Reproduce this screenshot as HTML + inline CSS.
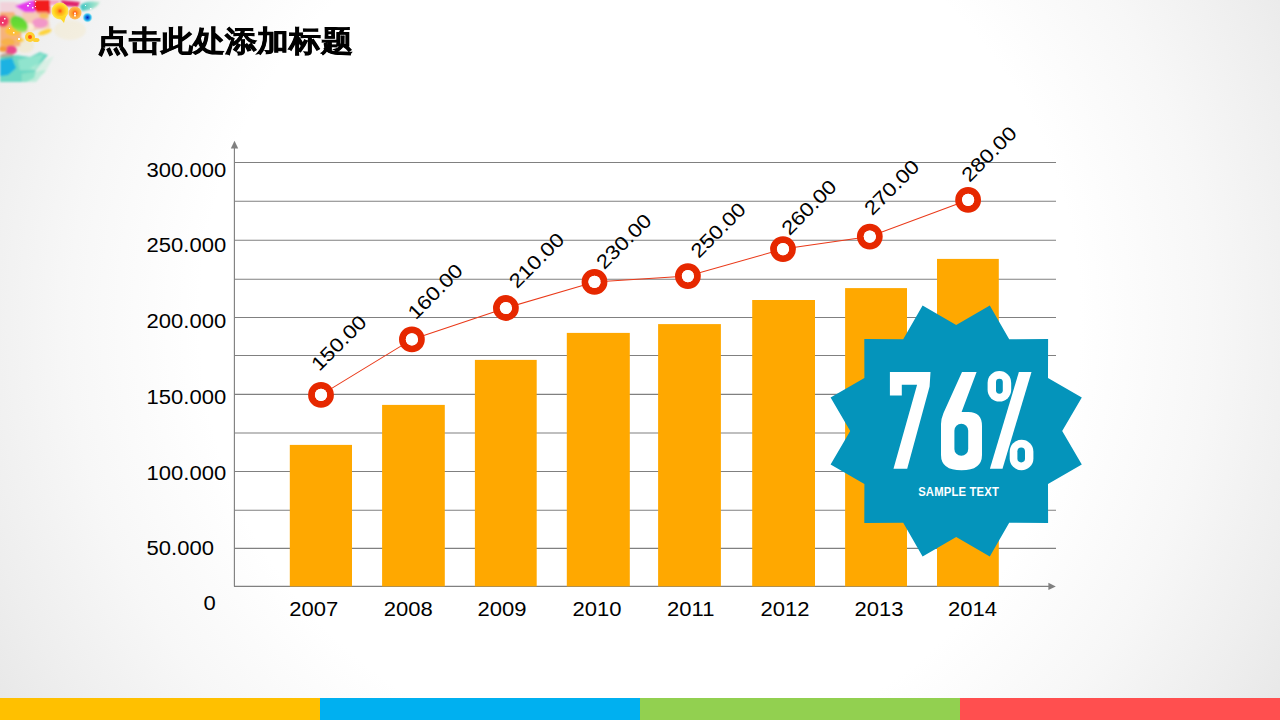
<!DOCTYPE html>
<html><head><meta charset="utf-8">
<style>
html,body{margin:0;padding:0;width:1280px;height:720px;overflow:hidden;}
body{position:relative;font-family:"Liberation Sans",sans-serif;
background:radial-gradient(circle at 640px 320px,#ffffff 0px,#ffffff 440px,#f7f7f7 570px,#eeeeee 680px,#e5e5e5 780px);}
.title{position:absolute;left:97px;top:23px;font-size:32px;font-weight:bold;color:#000;-webkit-text-stroke:0.8px #000;white-space:nowrap;line-height:40px;transform:scaleY(0.91);transform-origin:0 0;}
.bars{position:absolute;left:0;top:698px;height:22px;width:1280px;}
.bars div{position:absolute;top:0;height:22px;width:320px;}
svg{position:absolute;left:0;top:0;}
.yl{position:absolute;font-size:19.5px;color:#000;white-space:nowrap;line-height:20px;}
</style></head>
<body>
<svg width="1280" height="720" viewBox="0 0 1280 720">
  <!-- plot area white -->
  
  <!-- gridlines -->
  <g stroke="#808080" stroke-width="1.15">
    <line x1="234" y1="162.5" x2="1056" y2="162.5"/>
    <line x1="234" y1="201.2" x2="1056" y2="201.2"/>
    <line x1="234" y1="240.2" x2="1056" y2="240.2"/>
    <line x1="234" y1="279.2" x2="1056" y2="279.2"/>
    <line x1="234" y1="317.5" x2="1056" y2="317.5"/>
    <line x1="234" y1="355.5" x2="1056" y2="355.5"/>
    <line x1="234" y1="394.3" x2="1056" y2="394.3"/>
    <line x1="234" y1="433" x2="1056" y2="433"/>
    <line x1="234" y1="471.5" x2="1056" y2="471.5"/>
    <line x1="234" y1="510.2" x2="1056" y2="510.2"/>
    <line x1="234" y1="548.4" x2="1056" y2="548.4"/>
    <line x1="234.4" y1="147" x2="234.4" y2="586.4"/>
    <line x1="234" y1="586.4" x2="1049" y2="586.4"/>
  </g>
  <polygon points="230.8,148.4 238.2,148.4 234.5,140.8" fill="#808080"/>
  <polygon points="1048.4,582.8 1048.4,590 1055.8,586.4" fill="#808080"/>
  <!-- bars -->
  <g fill="#FFA800">
    <rect x="289.8" y="444.9" width="62.2" height="141.5"/>
    <rect x="382.1" y="404.9" width="62.7" height="181.5"/>
    <rect x="474.9" y="359.9" width="61.8" height="226.5"/>
    <rect x="566.8" y="332.9" width="63" height="253.5"/>
    <rect x="658.1" y="324.1" width="62.8" height="262.3"/>
    <rect x="752.2" y="300" width="62.8" height="286.4"/>
    <rect x="845.1" y="288.1" width="61.9" height="298.3"/>
    <rect x="937" y="258.9" width="61.8" height="327.5"/>
  </g>
  <!-- line -->
  <polyline points="321,394.9 411.9,339.4 505.9,308 594.5,281.9 687.9,276.1 783,249.1 869.8,236.6 968.1,199.9" fill="none" stroke="#EA3A1A" stroke-width="1.05"/>
  <g fill="none" stroke="#E62800" stroke-width="6.8">
    <circle cx="321" cy="394.9" r="9.5"/>
    <circle cx="411.9" cy="339.4" r="9.5"/>
    <circle cx="505.9" cy="308" r="9.5"/>
    <circle cx="594.5" cy="281.9" r="9.5"/>
    <circle cx="687.9" cy="276.1" r="9.5"/>
    <circle cx="783" cy="249.1" r="9.5"/>
    <circle cx="869.8" cy="236.6" r="9.5"/>
    <circle cx="968.1" cy="199.9" r="9.5"/>
  </g>
  <g fill="#fff">
    <circle cx="321" cy="394.9" r="6.1"/>
    <circle cx="411.9" cy="339.4" r="6.1"/>
    <circle cx="505.9" cy="308" r="6.1"/>
    <circle cx="594.5" cy="281.9" r="6.1"/>
    <circle cx="687.9" cy="276.1" r="6.1"/>
    <circle cx="783" cy="249.1" r="6.1"/>
    <circle cx="869.8" cy="236.6" r="6.1"/>
    <circle cx="968.1" cy="199.9" r="6.1"/>
  </g>
  <!-- data labels (centered, rotated) -->
  <g font-family="Liberation Sans" font-size="19.5" fill="#000" text-anchor="middle" dominant-baseline="central">
    <text transform="translate(338.6,342.8) rotate(-45) scale(1.15,1)">150.00</text>
    <text transform="translate(435,291.3) rotate(-45) scale(1.15,1)">160.00</text>
    <text transform="translate(536.3,260.2) rotate(-45) scale(1.15,1)">210.00</text>
    <text transform="translate(623.6,241.2) rotate(-45) scale(1.15,1)">230.00</text>
    <text transform="translate(718,229.9) rotate(-45) scale(1.15,1)">250.00</text>
    <text transform="translate(808.7,207.2) rotate(-45) scale(1.15,1)">260.00</text>
    <text transform="translate(891.5,187.2) rotate(-45) scale(1.15,1)">270.00</text>
    <text transform="translate(988.8,153.75) rotate(-45) scale(1.15,1)">280.00</text>
  </g>
  <!-- y labels -->
  <g font-family="Liberation Sans" font-size="19.5" fill="#000">
    <text transform="translate(146.6,177) scale(1.13,1)">300.000</text>
    <text transform="translate(146.6,252) scale(1.13,1)">250.000</text>
    <text transform="translate(146.6,328) scale(1.13,1)">200.000</text>
    <text transform="translate(146.6,403.8) scale(1.13,1)">150.000</text>
    <text transform="translate(146.6,480) scale(1.13,1)">100.000</text>
    <text transform="translate(146.6,555) scale(1.13,1)">50.000</text>
    <text transform="translate(203.6,610.4) scale(1.13,1)">0</text>
  </g>
  <!-- x labels -->
  <g font-family="Liberation Sans" font-size="19.5" fill="#000" text-anchor="middle">
    <text transform="translate(313.85,616) scale(1.13,1)">2007</text>
    <text transform="translate(408.15,616) scale(1.13,1)">2008</text>
    <text transform="translate(502.00,616) scale(1.13,1)">2009</text>
    <text transform="translate(597.10,616) scale(1.13,1)">2010</text>
    <text transform="translate(690.80,616) scale(1.13,1)">2011</text>
    <text transform="translate(785.00,616) scale(1.13,1)">2012</text>
    <text transform="translate(879.00,616) scale(1.13,1)">2013</text>
    <text transform="translate(972.60,616) scale(1.13,1)">2014</text>
  </g>
  <!-- star badge -->
  <polygon fill="#0494BB" points="956.2,325.0 989.8,305.4 1009.2,339.2 1048.1,339.1 1048.0,378.0 1081.8,397.4 1062.2,431.0 1081.8,464.6 1048.0,484.0 1048.1,522.9 1009.2,522.8 989.8,556.6 956.2,537.0 922.6,556.6 903.2,522.8 864.3,522.9 864.4,484.0 830.6,464.6 850.2,431.0 830.6,397.4 864.4,378.0 864.3,339.1 903.2,339.2 922.6,305.4"/>
  <!-- 76% glyphs -->
  <g fill="#fff">
    <polygon points="889.9,371.9 930.5,371.9 929.6,386.4 907.2,468.8 893.5,468.8 917.1,384.8 901.8,384.8 901.8,395.5 889.9,395.5"/>
    <path d="M962,371.9 L976.6,371.9 L961.6,412 L968.5,412 Q982,412 982,426 L982,455 Q982,470.3 961.5,470.3 Q941,470.3 941,455 L941,424 Q941,419 943.5,413 Z"/>
    <rect x="987.6" y="371.1" width="23.6" height="30.5" rx="11.8" ry="11.8"/>
    <polygon points="1018.9,371.9 1031.5,371.9 1002.5,468.8 989.9,468.8"/>
    <rect x="1009.7" y="439.8" width="23.7" height="30.5" rx="11.85" ry="11.85"/>
  </g>
  <g fill="#0494BB">
    <rect x="954.4" y="423.8" width="13.8" height="32" rx="6.9" ry="6.9"/>
    <rect x="996" y="378.7" width="6.8" height="15" rx="3.4" ry="3.4"/>
    <rect x="1017.4" y="447.4" width="7.6" height="15" rx="3.8" ry="3.8"/>
  </g>
  <text transform="translate(958.6,496) scale(0.94,1)" font-family="Liberation Sans" font-weight="bold" font-size="12" fill="#fff" text-anchor="middle" letter-spacing="0.2">SAMPLE TEXT</text>
</svg>
<svg width="110" height="90" viewBox="0 0 110 90" style="position:absolute;left:0;top:0;">
  <defs>
    <filter id="bl" x="-30%" y="-30%" width="160%" height="160%"><feGaussianBlur stdDeviation="1.3"/></filter>
    <filter id="bl2" x="-30%" y="-30%" width="160%" height="160%"><feGaussianBlur stdDeviation="0.7"/></filter>
    <radialGradient id="yf" cx="0.5" cy="0.5" r="0.5"><stop offset="0" stop-color="#FF4A10"/><stop offset="0.3" stop-color="#FFA818"/><stop offset="0.7" stop-color="#FFD820"/><stop offset="1" stop-color="#FFE45A"/></radialGradient>
    <radialGradient id="of" cx="0.5" cy="0.5" r="0.5"><stop offset="0" stop-color="#FF3A10"/><stop offset="0.45" stop-color="#FF9A28"/><stop offset="1" stop-color="#FFC060"/></radialGradient>
    <radialGradient id="bf" cx="0.5" cy="0.5" r="0.5"><stop offset="0" stop-color="#0020B0"/><stop offset="0.35" stop-color="#1070E0"/><stop offset="0.7" stop-color="#40C8EE"/><stop offset="1" stop-color="#A8E8F4" stop-opacity="0.3"/></radialGradient>
    <linearGradient id="gl" x1="0" y1="0" x2="1" y2="1"><stop offset="0" stop-color="#58D040"/><stop offset="0.6" stop-color="#6ADC30"/><stop offset="1" stop-color="#C8E890"/></linearGradient>
    <linearGradient id="tl" x1="0" y1="0" x2="1" y2="0"><stop offset="0" stop-color="#30C0C0"/><stop offset="1" stop-color="#90E4B8" stop-opacity="0.6"/></linearGradient>
  </defs>
  <g filter="url(#bl)">
    <!-- pale swirls -->
    <ellipse cx="70" cy="30" rx="16" ry="10" fill="#F4E6B4" opacity="0.3"/>
    <ellipse cx="25" cy="46" rx="9" ry="7" fill="#F2E2A8" opacity="0.35"/>
    <!-- pale pink triangle -->
    <path d="M0,2 L14,2 L38,8 L40,26 L20,22 L0,12 Z" fill="#F2CCD6" opacity="0.8"/>
    <!-- peach left -->
    <path d="M0,12 L14,12 L22,30 L20,46 L0,48 Z" fill="#F5B27C"/>
    <ellipse cx="3" cy="21" rx="6" ry="6" fill="#F0386A"/>
    <ellipse cx="13" cy="31" rx="8" ry="5" fill="#FFC02E" opacity="0.9"/>
    <ellipse cx="8" cy="42" rx="7" ry="4" fill="#F8B040" opacity="0.8"/>
    <ellipse cx="11" cy="50" rx="6" ry="4.5" fill="#EA4A8C"/>
    <ellipse cx="3" cy="49" rx="4" ry="3" fill="#F49A38"/>
    <ellipse cx="7" cy="56" rx="7" ry="3" fill="#B8907C" opacity="0.8"/>
    <!-- teal leaves bottom -->
    <path d="M0,57 L16,55 L30,57 L40,52 L48,55 L36,70 L34,78 L26,82 L0,82 Z" fill="#42D0B6" opacity="0.75"/>
    <path d="M0,60 L12,58 L16,68 L8,75 L0,76 Z" fill="#1CB2E2"/>
    <path d="M18,60 L44,54 L34,70 L20,70 Z" fill="#A8ECD4" opacity="0.6"/>
    <path d="M30,68 L54,56 L44,74 Z" fill="#C4EEDA" opacity="0.55"/>
    <path d="M22,74 L46,70 L36,82 L22,82 Z" fill="#9CEACC" opacity="0.6"/>
    <!-- magenta / red top -->
    <path d="M15,6 L33,0 L37,8 L34,13 L26,13 Z" fill="#E43CEC"/>
    <path d="M34,0 L50,0 L50,14 L38,14 L34,8 Z" fill="#F21E1A"/>
    <path d="M50,0 L60,0 L58,5 L50,5 Z" fill="#F3A4C4"/>
    <path d="M60,0 L80,2 L78,7 L64,6 Z" fill="#E0246C"/>
    <ellipse cx="40" cy="23" rx="8" ry="5" fill="#F290CC" opacity="0.85"/>
    <path d="M22,12 L48,12 L50,28 L36,30 L24,34 Z" fill="#F6C8A8" opacity="0.75"/><ellipse cx="40" cy="23" rx="8" ry="5" fill="#F290CC" opacity="0.85"/><ellipse cx="30" cy="27" rx="4" ry="4" fill="#FBF0D8" opacity="0.9"/><ellipse cx="44" cy="16" rx="5" ry="3" fill="#F8B838" opacity="0.7"/>
    <!-- green leaf -->
    <ellipse cx="19" cy="24" rx="10" ry="7" transform="rotate(40 19 24)" fill="url(#gl)"/>
    <!-- teal top right -->
    <path d="M80,6 Q84,0 100,2 Q96,10 82,11 Z" fill="url(#tl)"/>
    <!-- yellow specks -->
    <ellipse cx="45" cy="32" rx="7" ry="2.5" transform="rotate(-20 45 32)" fill="#FFD028" opacity="0.9"/>
    <ellipse cx="20" cy="40" rx="4" ry="2" fill="#FFC828" opacity="0.8"/>
  </g>
  <g filter="url(#bl2)">
    <!-- yellow flower -->
    <circle cx="60" cy="11" r="8.5" fill="url(#yf)"/>
    <path d="M58,16 L66,16 L64,23 Z" fill="#FFD828"/>
    <!-- orange flower -->
    <circle cx="75" cy="13" r="6.5" fill="url(#of)"/>
    <!-- small flower -->
    <circle cx="30" cy="37" r="5" fill="#FFD030"/>
    <circle cx="30" cy="37" r="2" fill="#FF5A10"/>
    <ellipse cx="36" cy="40" rx="3.5" ry="2" fill="#FFD030"/>
    <!-- blue flower -->
    <circle cx="87.5" cy="17.5" r="5" fill="url(#bf)"/>
  </g>
  <g fill="#fff" opacity="0.95">
    <rect x="27" y="5" width="2" height="1.5"/><rect x="32" y="7" width="1.5" height="1.5"/>
    <rect x="29" y="3" width="1.5" height="1"/><rect x="35" y="6" width="1" height="1"/>
    <rect x="74" y="12.5" width="2" height="2"/><rect x="74" y="15" width="2" height="1.5"/>
    <rect x="18" y="38" width="2" height="2"/><rect x="13" y="32" width="1.5" height="1.5"/>
    <rect x="4" y="18" width="1.5" height="1.5"/><rect x="2" y="22" width="1.5" height="1.5"/>
    <rect x="90" y="8" width="1.5" height="1.5"/><rect x="85" y="5" width="1" height="1"/>
    <rect x="9" y="28" width="1" height="1"/><rect x="35" y="1" width="1.2" height="1.2"/>
  </g>
</svg>
<div class="title">点击此处添加标题</div>
<div class="bars">
  <div style="left:0;background:#FFC000"></div>
  <div style="left:320px;background:#00B0F0"></div>
  <div style="left:640px;background:#92D050"></div>
  <div style="left:960px;background:#FF4F4F"></div>
</div>
</body></html>
